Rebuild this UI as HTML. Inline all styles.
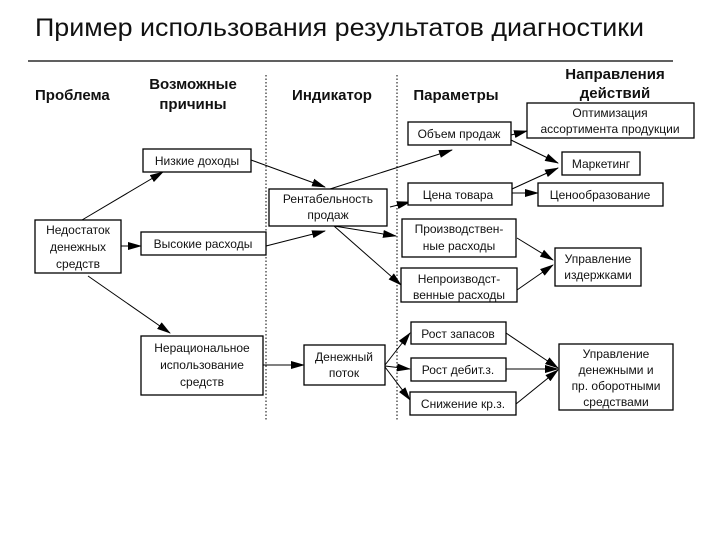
<!DOCTYPE html>
<html><head><meta charset="utf-8"><style>
html,body{margin:0;padding:0;background:#fff;}
svg{display:block;font-family:"Liberation Sans",Arial,sans-serif;}
.b{fill:#fff;stroke:#000;stroke-width:1.3}
.t{font-size:12px;fill:#111}
.h{font-size:15px;font-weight:bold;fill:#111}
.a{stroke:#000;stroke-width:1;marker-end:url(#ar)}
</style></head><body>
<svg width="720" height="540" viewBox="0 0 720 540">
<defs><marker id="ar" markerWidth="14" markerHeight="10" refX="13" refY="5" orient="auto" markerUnits="userSpaceOnUse"><path d="M0,1 L14,5 L0,9 Z" fill="#000"/></marker></defs>
<text x="35" y="36" font-size="25" fill="#111" textLength="609" lengthAdjust="spacingAndGlyphs">Пример использования результатов диагностики</text>
<line x1="28" y1="61" x2="673" y2="61" stroke="#000" stroke-width="1.3"/>
<text class="h" x="35" y="100">Проблема</text>
<text class="h" x="193" y="89" text-anchor="middle">Возможные</text>
<text class="h" x="193" y="109" text-anchor="middle">причины</text>
<text class="h" x="332" y="100" text-anchor="middle">Индикатор</text>
<text class="h" x="456" y="100" text-anchor="middle">Параметры</text>
<text class="h" x="615" y="79" text-anchor="middle">Направления</text>
<text class="h" x="615" y="98" text-anchor="middle">действий</text>
<line x1="266" y1="75" x2="266" y2="420" stroke="#000" stroke-dasharray="1.5,2"/>
<line x1="397" y1="75" x2="397" y2="420" stroke="#000" stroke-dasharray="1.5,2"/>
<!-- arrows -->
<line class="a" x1="82" y1="220" x2="163" y2="172"/>
<line class="a" x1="120" y1="246" x2="141" y2="246"/>
<line class="a" x1="88" y1="276" x2="170" y2="333"/>
<line class="a" x1="251" y1="160" x2="325" y2="187"/>
<line class="a" x1="266" y1="246" x2="325" y2="231"/>
<line class="a" x1="330" y1="189" x2="452" y2="150"/>
<line class="a" x1="390" y1="207" x2="410" y2="202"/>
<line class="a" x1="334" y1="226" x2="396" y2="236"/>
<line class="a" x1="334" y1="226" x2="401" y2="285"/>
<line class="a" x1="511" y1="135" x2="527" y2="131"/>
<line class="a" x1="511" y1="140" x2="558" y2="163"/>
<line class="a" x1="512" y1="189" x2="558" y2="168"/>
<line class="a" x1="512" y1="193" x2="538" y2="193"/>
<line class="a" x1="517" y1="238" x2="553" y2="260"/>
<line class="a" x1="517" y1="290" x2="553" y2="265"/>
<line class="a" x1="263" y1="365" x2="304" y2="365"/>
<line class="a" x1="385" y1="365" x2="410" y2="333"/>
<line class="a" x1="385" y1="366" x2="410" y2="369"/>
<line class="a" x1="385" y1="367" x2="410" y2="400"/>
<line class="a" x1="506" y1="333" x2="558" y2="368"/>
<line class="a" x1="506" y1="369" x2="558" y2="369"/>
<line class="a" x1="516" y1="404" x2="558" y2="370"/>
<!-- boxes -->
<rect class="b" x="143" y="149" width="108" height="23"/><text class="t" x="197" y="165" text-anchor="middle">Низкие доходы</text>
<rect class="b" x="35" y="220" width="86" height="53"/>
<text class="t" x="78" y="234" text-anchor="middle">Недостаток</text>
<text class="t" x="78" y="251" text-anchor="middle">денежных</text>
<text class="t" x="78" y="268" text-anchor="middle">средств</text>
<rect class="b" x="141" y="232" width="125" height="23"/><text class="t" x="203" y="248" text-anchor="middle">Высокие расходы</text>
<rect class="b" x="141" y="336" width="122" height="59"/>
<text class="t" x="202" y="352" text-anchor="middle">Нерациональное</text>
<text class="t" x="202" y="369" text-anchor="middle">использование</text>
<text class="t" x="202" y="386" text-anchor="middle">средств</text>
<rect class="b" x="269" y="189" width="118" height="37"/>
<text class="t" x="328" y="203" text-anchor="middle">Рентабельность</text>
<text class="t" x="328" y="219" text-anchor="middle">продаж</text>
<rect class="b" x="304" y="345" width="81" height="40"/>
<text class="t" x="344" y="361" text-anchor="middle">Денежный</text>
<text class="t" x="344" y="377" text-anchor="middle">поток</text>
<rect class="b" x="408" y="122" width="103" height="23"/><text class="t" x="459" y="138" text-anchor="middle">Объем продаж</text>
<rect class="b" x="408" y="183" width="104" height="22"/><text class="t" x="458" y="199" text-anchor="middle">Цена товара</text>
<rect class="b" x="402" y="219" width="114" height="38"/>
<text class="t" x="459" y="233" text-anchor="middle">Производствен-</text>
<text class="t" x="459" y="250" text-anchor="middle">ные расходы</text>
<rect class="b" x="401" y="268" width="116" height="34"/>
<text class="t" x="459" y="283" text-anchor="middle">Непроизводст-</text>
<text class="t" x="459" y="299" text-anchor="middle">венные расходы</text>
<rect class="b" x="527" y="103" width="167" height="35"/>
<text class="t" x="610" y="117" text-anchor="middle">Оптимизация</text>
<text class="t" x="610" y="133" text-anchor="middle">ассортимента продукции</text>
<rect class="b" x="562" y="152" width="78" height="23"/><text class="t" x="601" y="168" text-anchor="middle">Маркетинг</text>
<rect class="b" x="538" y="183" width="125" height="23"/><text class="t" x="600" y="199" text-anchor="middle">Ценообразование</text>
<rect class="b" x="555" y="248" width="86" height="38"/>
<text class="t" x="598" y="263" text-anchor="middle">Управление</text>
<text class="t" x="598" y="279" text-anchor="middle">издержками</text>
<rect class="b" x="411" y="322" width="95" height="22"/><text class="t" x="458" y="338" text-anchor="middle">Рост запасов</text>
<rect class="b" x="411" y="358" width="95" height="23"/><text class="t" x="458" y="374" text-anchor="middle">Рост дебит.з.</text>
<rect class="b" x="410" y="392" width="106" height="23"/><text class="t" x="463" y="408" text-anchor="middle">Снижение кр.з.</text>
<rect class="b" x="559" y="344" width="114" height="66"/>
<text class="t" x="616" y="358" text-anchor="middle">Управление</text>
<text class="t" x="616" y="374" text-anchor="middle">денежными и</text>
<text class="t" x="616" y="390" text-anchor="middle">пр. оборотными</text>
<text class="t" x="616" y="406" text-anchor="middle">средствами</text>
</svg>
</body></html>
